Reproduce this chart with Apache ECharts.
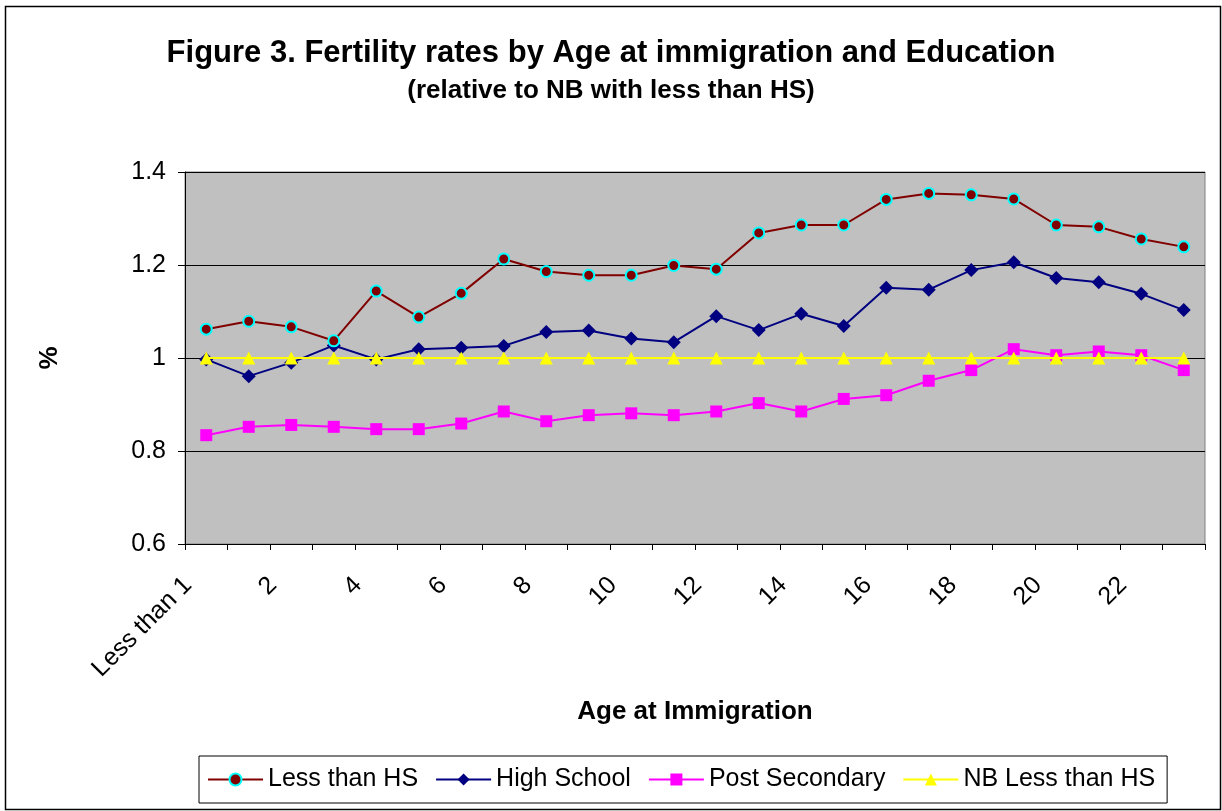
<!DOCTYPE html>
<html>
<head>
<meta charset="utf-8">
<script src="https://cdn.jsdelivr.net/npm/echarts@6/dist/echarts.min.js"></script>
<style>
  html, body { margin: 0; padding: 0; background: #fff; }
  #chart { width: 1222px; height: 811px; }
</style>
</head>
<body>
<div id="chart"></div>
<script>
// Age at immigration categories
const categories = ['Less than 1', '1', '2', '3', '4', '5', '6', '7', '8', '9', '10', '11',
  '12', '13', '14', '15', '16', '17', '18', '19', '20', '21', '22', '23'];

// Fertility relative to native-born with less than high school
const lessThanHS = [1.062, 1.079, 1.067, 1.037, 1.144, 1.088, 1.139, 1.213, 1.186, 1.178, 1.178, 1.199,
  1.191, 1.269, 1.286, 1.286, 1.341, 1.354, 1.351, 1.342, 1.286, 1.282, 1.256, 1.239];
const highSchool = [0.997, 0.961, 0.990, 1.027, 0.997, 1.019, 1.022, 1.026, 1.056, 1.059, 1.042, 1.034,
  1.090, 1.060, 1.095, 1.069, 1.151, 1.147, 1.189, 1.206, 1.172, 1.163, 1.138, 1.103];
const postSecondary = [0.834, 0.852, 0.856, 0.852, 0.847, 0.847, 0.859, 0.885, 0.864, 0.877, 0.881, 0.877,
  0.885, 0.903, 0.885, 0.912, 0.920, 0.951, 0.974, 1.019, 1.006, 1.014, 1.006, 0.974];
const nbLessThanHS = [1, 1, 1, 1, 1, 1, 1, 1, 1, 1, 1, 1,
  1, 1, 1, 1, 1, 1, 1, 1, 1, 1, 1, 1];

const FONT = '"Liberation Sans", Arial, sans-serif';

const chart = echarts.init(document.getElementById('chart'), null, { renderer: 'canvas' });

chart.setOption({
  backgroundColor: '#ffffff',
  animation: false,
  textStyle: { fontFamily: FONT, color: '#000' },
  graphic: [{
    type: 'rect',
    left: 3, top: 4,
    shape: { width: 1215, height: 803 },
    style: { fill: 'none', stroke: '#000', lineWidth: 1.5 },
    silent: true, z: -1
  }],
  title: [{
    text: 'Figure 3. Fertility rates by Age at immigration and Education',
    left: 'center', top: 33,
    textStyle: { fontFamily: FONT, fontSize: 31, fontWeight: 'bold', color: '#000' }
  }, {
    text: '(relative to NB with less than HS)',
    left: 'center', top: 73,
    textStyle: { fontFamily: FONT, fontSize: 26, fontWeight: 'bold', color: '#000' }
  }],
  legend: {
    bottom: 8,
    left: 199,
    itemWidth: 55,
    itemHeight: 15,
    itemGap: 17,
    padding: [11, 12, 11, 8],
    borderColor: '#000',
    borderWidth: 1,
    textStyle: { fontFamily: FONT, fontSize: 25, color: '#000' },
    data: ['Less than HS', 'High School', 'Post Secondary', 'NB Less than HS']
  },
  grid: {
    left: 185, right: 17, top: 172, bottom: 267,
    show: true,
    backgroundColor: '#c0c0c0',
    borderColor: '#808080',
    borderWidth: 1
  },
  xAxis: {
    type: 'category',
    data: categories,
    boundaryGap: true,
    name: 'Age at Immigration',
    nameLocation: 'middle',
    nameGap: 155,
    nameTextStyle: { fontFamily: FONT, fontSize: 26, fontWeight: 'bold', color: '#000' },
    axisLine: { lineStyle: { color: '#000', width: 1 } },
    axisTick: { show: true, interval: 0, length: 6, lineStyle: { color: '#000' } },
    axisLabel: {
      interval: 1,
      rotate: 45,
      margin: 19,
      padding: [0, 26, 0, 0],
      fontFamily: FONT, fontSize: 25, color: '#000'
    },
    splitLine: { show: false }
  },
  yAxis: {
    type: 'value',
    min: 0.6, max: 1.4, interval: 0.2,
    name: '%',
    nameLocation: 'middle',
    nameRotate: 90,
    nameGap: 122,
    nameTextStyle: { fontFamily: FONT, fontSize: 26, fontWeight: 'bold', color: '#000' },
    axisLine: { show: true, lineStyle: { color: '#000', width: 1 } },
    axisTick: { show: true, length: 7, lineStyle: { color: '#000' } },
    axisLabel: { margin: 19, fontFamily: FONT, fontSize: 25, color: '#000' },
    splitLine: { show: true, lineStyle: { color: '#000', width: 1 } }
  },
  series: [{
    name: 'Less than HS',
    type: 'line',
    data: lessThanHS,
    symbol: 'circle',
    symbolSize: 11,
    lineStyle: { color: '#800000', width: 2 },
    itemStyle: { color: '#800000', borderColor: '#00ffff', borderWidth: 2 },
    z: 5
  }, {
    name: 'High School',
    type: 'line',
    data: highSchool,
    symbol: 'diamond',
    symbolSize: 14,
    lineStyle: { color: '#000080', width: 2 },
    itemStyle: { color: '#000080' },
    z: 4
  }, {
    name: 'Post Secondary',
    type: 'line',
    data: postSecondary,
    symbol: 'rect',
    symbolSize: 12,
    lineStyle: { color: '#ff00ff', width: 2 },
    itemStyle: { color: '#ff00ff' },
    z: 3
  }, {
    name: 'NB Less than HS',
    type: 'line',
    data: nbLessThanHS,
    symbol: 'triangle',
    symbolSize: 13,
    lineStyle: { color: '#ffff00', width: 2 },
    itemStyle: { color: '#ffff00' },
    z: 6
  }]
});
</script>
</body>
</html>
